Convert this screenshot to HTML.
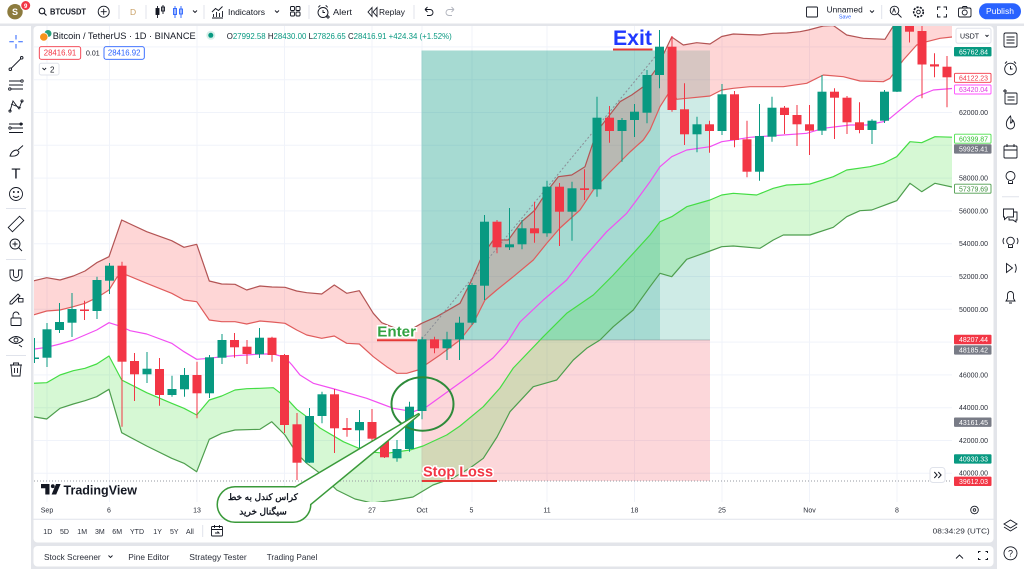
<!DOCTYPE html>
<html><head><meta charset="utf-8"><style>
html,body{margin:0;padding:0;background:#e3e5ea;}
svg{display:block;}
text{font-family:"Liberation Sans",Arial,sans-serif;}
</style></head><body>
<svg width="1024" height="569" viewBox="0 0 1024 569" xmlns="http://www.w3.org/2000/svg">
<defs>
<clipPath id="plot"><rect x="34" y="26" width="918" height="476"/></clipPath>
</defs>
<rect x="0" y="0" width="1024" height="569" fill="#e3e5ea"/>
<!-- panels -->
<rect x="0" y="0" width="1024" height="23.5" fill="#fff"/>
<rect x="0" y="26" width="31" height="543" fill="#fff"/>
<rect x="33.5" y="26" width="960" height="516.5" rx="4" fill="#fff"/>
<rect x="33.5" y="546" width="960" height="20.5" rx="4" fill="#fff"/>
<rect x="997" y="26" width="27" height="543" fill="#fff"/>

<!-- grid -->
<g stroke="#f0f3fa" stroke-width="1">
<path d="M47 26V502M109.5 26V502M197 26V502M284.5 26V502M372 26V502M422 26V502M472 26V502M547 26V502M634.5 26V502M722 26V502M809.5 26V502M897 26V502"/>
<path d="M34 46.9H952M34 79.7H952M34 112.5H952M34 145.3H952M34 178.1H952M34 210.9H952M34 243.7H952M34 276.5H952M34 309.3H952M34 342.1H952M34 374.9H952M34 407.7H952M34 440.5H952M34 473.3H952"/>
</g>
<line x1="33.5" y1="519.3" x2="993.5" y2="519.3" stroke="#e0e3eb"/>

<g clip-path="url(#plot)">
<!-- position tool -->
<rect x="421.5" y="50.5" width="238.5" height="289.5" fill="rgba(8,153,129,0.36)"/>
<rect x="660" y="50.5" width="50" height="289.5" fill="rgba(8,153,129,0.2)"/>
<rect x="421.5" y="340" width="288.5" height="141" fill="rgba(242,54,69,0.2)"/>
<line x1="421.5" y1="340" x2="710" y2="340" stroke="rgba(120,123,134,0.45)"/>
<!-- band fills -->
<polygon fill="rgba(250,70,70,0.22)" points="33,281 46.7,277.7 60,280 73.3,276 85,271 96.7,262.7 109,256.7 121.7,220 146.7,231.7 171.7,240.7 184,247.3 196.7,244.3 209.3,281 221.7,284 235,284.3 246.7,290 260,286 272,287 285,287.3 296.7,291 306.7,292.7 321.7,294 334.3,285 346.7,293.3 359.3,290.7 373.3,313.3 381.7,322.7 395,328 410,330 421.7,323.3 436.7,316.7 460,303.3 471.7,280 481.7,256.7 493.3,240 508.3,240 521.7,221.7 535,210 546.7,191.7 558.3,176.7 571.7,175 585,166.7 596.7,131.7 608.3,116.7 620,101.7 631.7,95 643.3,86.7 656.7,68.3 671.7,37 683.3,45 696.7,42.7 710,44 721.7,36.5 733.3,34 745,34.5 760,35 773.3,33.3 786.7,33 800,31.7 808.3,30 823.3,26 833.3,25.5 846.7,35 863.3,38.3 885,39.3 893.3,26 900,10 955,5 955,36.7 940,38.3 926.7,41.7 916.7,45 903.3,60 890,78.3 883.3,81.7 860,81 843.3,76.7 823.3,75 806.7,83.3 783.3,86.7 750,86.7 733.3,88.3 721.7,90 710,96 686.7,98.3 676.7,99.3 671.7,88.3 660,106.7 650,130 643.3,140 630,152 610,172 593.3,190 580,210 560,228 547,243 533.3,260 513.3,276.7 496.7,290 485,300 473.3,323.3 460,340 440,355 418,370 406.7,373.3 396.7,373.3 386.7,366.7 373.3,356.7 359.3,344 346.7,343.3 334.3,336 321.7,338.3 306.7,335 296.7,330 285,323.3 272,322 260,321 246.7,324 235,321.7 221.7,321.7 209.3,320 196.7,301.7 184,300 171.7,293.3 146.7,283.3 126.7,275 117.3,276.7 109,290 96.7,297.7 85,303.3 73.3,306.7 60,310 46.7,311 33,315"/>
<polygon fill="rgba(70,225,60,0.22)" points="33,383.3 46.7,382.7 60,375 73.3,370.7 85,368.3 96.7,364 109,356 121.7,380 146.7,392.7 171.7,403.3 184,408.3 196.7,415 209.3,400 221.7,396 235,390 246.7,388.7 260,388.3 273.3,387.7 285,396.7 296.7,409.3 306.7,416.7 320,428 343.3,441.7 366.7,451.7 386.7,453.3 410,450 423,446 446.7,435 460,426 483.3,406.7 500,388 513.3,368 543.3,336.7 566.7,313.3 593.3,295 613.3,275 633.3,253.3 650,235 660,221.7 671.7,216.7 686.7,206.7 710,200 721.7,195 733.3,193.3 756.7,195 773.3,188.3 786.7,185 810,184 833.3,176.7 846.7,170 870,166.7 883.3,163.3 896.7,156.7 910,141.7 921.7,142.7 935,136.7 955,137.3 955,187.7 935,183.3 921.7,191.7 910,183.3 896.7,200.7 871.7,210 860,210.7 846.7,216.7 833.3,227.3 810,235 783.3,235 773.3,240 760,248.3 733.3,246 721.7,246.7 710,251 686.7,259.3 671.7,276.7 660,273.3 650,286.7 633.3,310 613.3,326.7 600,340 586.7,348.3 573.3,360 556.7,380 533.3,386.7 510,411.7 497,437 483.3,458.3 470,468 453,478 433,485 413,497 395,500 372,503 355,499 336.7,490 320,473.3 306.7,463.3 296.7,453.3 285,435 271.7,421.7 260,429.3 235,430 221.7,433.3 209.3,439.3 196.7,471.7 184,463.3 171.7,458.3 146.7,446 121.7,432.7 109,389.3 96.7,396.7 85,400.7 73.3,404 60,408.3 46.7,419 33,416.7"/>
<!-- band lines -->
<g fill="none" stroke-width="1.2" stroke-linejoin="round">
<polyline stroke="#b35454" points="33,281 46.7,277.7 60,280 73.3,276 85,271 96.7,262.7 109,256.7 121.7,220 146.7,231.7 171.7,240.7 184,247.3 196.7,244.3 209.3,281 221.7,284 235,284.3 246.7,290 260,286 272,287 285,287.3 296.7,291 306.7,292.7 321.7,294 334.3,285 346.7,293.3 359.3,290.7 373.3,313.3 381.7,322.7 395,328 410,330 421.7,323.3 436.7,316.7 460,303.3 471.7,280 481.7,256.7 493.3,240 508.3,240 521.7,221.7 535,210 546.7,191.7 558.3,176.7 571.7,175 585,166.7 596.7,131.7 608.3,116.7 620,101.7 631.7,95 643.3,86.7 656.7,68.3 671.7,37 683.3,45 696.7,42.7 710,44 721.7,36.5 733.3,34 745,34.5 760,35 773.3,33.3 786.7,33 800,31.7 808.3,30 823.3,26 833.3,25.5 846.7,35 863.3,38.3 885,39.3 893.3,26 900,10 955,5"/>
<polyline stroke="#e05c5c" points="33,315 46.7,311 60,310 73.3,306.7 85,303.3 96.7,297.7 109,290 117.3,276.7 126.7,275 146.7,283.3 171.7,293.3 184,300 196.7,301.7 209.3,320 221.7,321.7 235,321.7 246.7,324 260,321 272,322 285,323.3 296.7,330 306.7,335 321.7,338.3 334.3,336 346.7,343.3 359.3,344 373.3,356.7 386.7,366.7 396.7,373.3 406.7,373.3 418,370 440,355 460,340 473.3,323.3 485,300 496.7,290 513.3,276.7 533.3,260 547,243 560,228 580,210 593.3,190 610,172 630,152 643.3,140 650,130 660,106.7 671.7,88.3 676.7,99.3 686.7,98.3 710,96 721.7,90 733.3,88.3 750,86.7 783.3,86.7 806.7,83.3 823.3,75 843.3,76.7 860,81 883.3,81.7 890,78.3 903.3,60 916.7,45 926.7,41.7 940,38.3 955,36.7"/>
<polyline stroke="#f24ef2" points="33,349.3 46.7,347.3 60,344 73.3,340 85,335 96.7,330 109,322.7 121.7,326.7 130,330.7 146.7,334 171.7,343.3 184,351.7 196.7,359.3 209.3,358.3 221.7,356.7 235,355.7 246.7,355 260,354 273.3,354 285,357.3 292,365 300,375 313.3,383.3 334.3,389 366.7,398.3 393.3,408.3 413.3,411.7 426.7,406.7 450,390 473.3,373.3 493,358 506.7,343 520,322 543.3,300 566.7,280 583.3,258.3 606.7,231.7 626.7,213.3 636.7,200 650,181.7 660,166.7 671.7,156.7 686.7,150 710,146.7 721.7,141.7 733.3,140 750,137.3 783.3,135 806.7,133.3 823.3,128.3 850,125 866.7,125 883.3,121.7 890,118.3 903.3,107.3 916.7,96.7 933.3,90 955,88.3"/>
<polyline stroke="#44dd44" points="33,383.3 46.7,382.7 60,375 73.3,370.7 85,368.3 96.7,364 109,356 121.7,380 146.7,392.7 171.7,403.3 184,408.3 196.7,415 209.3,400 221.7,396 235,390 246.7,388.7 260,388.3 273.3,387.7 285,396.7 296.7,409.3 306.7,416.7 320,428 343.3,441.7 366.7,451.7 386.7,453.3 410,450 423,446 446.7,435 460,426 483.3,406.7 500,388 513.3,368 543.3,336.7 566.7,313.3 593.3,295 613.3,275 633.3,253.3 650,235 660,221.7 671.7,216.7 686.7,206.7 710,200 721.7,195 733.3,193.3 756.7,195 773.3,188.3 786.7,185 810,184 833.3,176.7 846.7,170 870,166.7 883.3,163.3 896.7,156.7 910,141.7 921.7,142.7 935,136.7 955,137.3"/>
<polyline stroke="#4e9e4e" points="33,416.7 46.7,419 60,408.3 73.3,404 85,400.7 96.7,396.7 109,389.3 121.7,432.7 146.7,446 171.7,458.3 184,463.3 196.7,471.7 209.3,439.3 221.7,433.3 235,430 260,429.3 271.7,421.7 285,435 296.7,453.3 306.7,463.3 320,473.3 336.7,490 355,499 372,503 395,500 413,497 433,485 453,478 470,468 483.3,458.3 497,437 510,411.7 533.3,386.7 556.7,380 573.3,360 586.7,348.3 600,340 613.3,326.7 633.3,310 650,286.7 660,273.3 671.7,276.7 686.7,259.3 710,251 721.7,246.7 733.3,246 760,248.3 773.3,240 783.3,235 810,235 833.3,227.3 846.7,216.7 860,210.7 871.7,210 896.7,200.7 910,183.3 921.7,191.7 935,183.3 955,187.7"/>
</g>
<!-- dotted lines -->
<line x1="34" y1="481" x2="952" y2="481" stroke="#9598a1" stroke-width="1" stroke-dasharray="1 2"/>
<line x1="422" y1="339" x2="659" y2="52" stroke="#8a8d96" stroke-width="1" stroke-dasharray="2 2"/>

<!-- green candles -->
<g stroke="#089981" stroke-width="1" fill="none">
<path d="M34.5 338V363M47 323V367M59.5 303V333M72 293V337M97 276.7V319M109.5 263V294M147 352V383M172 375.7V396.7M184.5 368V396.7M209.5 355V398M222 334V364M259.5 328V358M309.5 408V463M322 391.7V423.3M359.5 410V449.3M397 440V461.7M409.5 401.7V451.7M422 336.7V419.3M447 331.7V360M459.5 316.7V360M472 283V325M484.5 215V300M509.5 208V250M522 220V249.3M547 180.7V236.7M572 181.7V240.7M597 96.7V196.7M622 118V161.7M634.5 104V137M647 70V123.3M659.5 30V88.3M697 116.7V152.3M722 84V135M759.5 104V180.7M772 96.7V141.7M822 75V135M872 119.3V144M884.5 90V123M897 20V92"/>
</g>
<g fill="#089981">
<rect x="30" y="357.5" width="9" height="1.5"/><rect x="42.5" y="329.3" width="9" height="28.4"/><rect x="55" y="322" width="9" height="8"/><rect x="67.5" y="309" width="9" height="13.7"/><rect x="92.5" y="280" width="9" height="31"/><rect x="105" y="265.7" width="9" height="15"/><rect x="142.5" y="368.7" width="9" height="5.6"/><rect x="167.5" y="389" width="9" height="6"/><rect x="180" y="375" width="9" height="14.3"/><rect x="205" y="357.3" width="9" height="36"/><rect x="217.5" y="340" width="9" height="17.7"/><rect x="255" y="337.7" width="9" height="16.6"/><rect x="305" y="416" width="9" height="46.7"/><rect x="317.5" y="394.3" width="9" height="21.7"/><rect x="355" y="422" width="9" height="8.3"/><rect x="392.5" y="449" width="9" height="9.3"/><rect x="405" y="406.7" width="9" height="42.3"/><rect x="417.5" y="339.3" width="9" height="71.7"/><rect x="442.5" y="339.3" width="9" height="9"/><rect x="455" y="322.7" width="9" height="16.6"/><rect x="467.5" y="285" width="9" height="37.7"/><rect x="480" y="221.7" width="9" height="64"/><rect x="505" y="244.3" width="9" height="3"/><rect x="517.5" y="228.3" width="9" height="16"/><rect x="542.5" y="186.7" width="9" height="46.6"/><rect x="567.5" y="188.3" width="9" height="23.4"/><rect x="592.5" y="117.7" width="9" height="71.6"/><rect x="617.5" y="120" width="9" height="11"/><rect x="630" y="111.7" width="9" height="8.3"/><rect x="642.5" y="75" width="9" height="37.7"/><rect x="655" y="46.7" width="9" height="28.3"/><rect x="692.5" y="124.3" width="9" height="10"/><rect x="717.5" y="94.3" width="9" height="36.7"/><rect x="755" y="136" width="9" height="35.7"/><rect x="767.5" y="107.7" width="9" height="29"/><rect x="817.5" y="91.7" width="9" height="39"/><rect x="867.5" y="120.7" width="9" height="9.3"/><rect x="880" y="91.7" width="9" height="29"/><rect x="892.5" y="20" width="9" height="71.7"/>
</g>
<!-- red candles -->
<g stroke="#f23645" stroke-width="1" fill="none">
<path d="M84.5 300.7V320M122 261.7V426.7M134.5 353V401M159.5 358V405.7M197 361.7V418.3M234.5 333V357.7M247 340V364M272 336.7V361.7M284.5 354V433M297 413V480M334.5 389V453M347 418V436.7M372 409V452.7M384.5 435V458M434.5 336.7V353.3M497 220V253.3M534.5 201.7V242.7M559.5 183V246M584.5 169.3V200M609.5 106V142.7M672 36V111.7M684.5 83.3V145M709.5 120.7V152.7M734.5 91V147.3M747 120.7V177.3M784.5 106V134M797 105V146M809.5 105V155M834.5 88.3V139M847 96V134M859.5 102.3V133.3M909.5 20V42.5M922 20V98.3M934.5 53.3V77.3M947 56V107.3"/>
</g>
<g fill="#f23645">
<rect x="80" y="309.5" width="9" height="1.5"/><rect x="117.5" y="265.7" width="9" height="96"/><rect x="130" y="361" width="9" height="13.3"/><rect x="155" y="369" width="9" height="26"/><rect x="192.5" y="375" width="9" height="18.3"/><rect x="230" y="340" width="9" height="7.3"/><rect x="242.5" y="346.7" width="9" height="7.3"/><rect x="267.5" y="337.7" width="9" height="17.3"/><rect x="280" y="355" width="9" height="70"/><rect x="292.5" y="424.3" width="9" height="38.4"/><rect x="330" y="394.3" width="9" height="34"/><rect x="342.5" y="428" width="9" height="2"/><rect x="367.5" y="422" width="9" height="16.7"/><rect x="380" y="439.3" width="9" height="18"/><rect x="430" y="339.3" width="9" height="9"/><rect x="492.5" y="221.7" width="9" height="25.6"/><rect x="530" y="228.3" width="9" height="5"/><rect x="555" y="186.7" width="9" height="25"/><rect x="580" y="188.3" width="9" height="1.7"/><rect x="605" y="117.7" width="9" height="13.3"/><rect x="667.5" y="46.7" width="9" height="63.3"/><rect x="680" y="109.3" width="9" height="25"/><rect x="705" y="124.3" width="9" height="6.7"/><rect x="730" y="94.3" width="9" height="45.7"/><rect x="742.5" y="139.3" width="9" height="32.4"/><rect x="780" y="107.7" width="9" height="7.3"/><rect x="792.5" y="115" width="9" height="9.3"/><rect x="805" y="124.3" width="9" height="6.4"/><rect x="830" y="91.7" width="9" height="6"/><rect x="842.5" y="97.7" width="9" height="24.6"/><rect x="855" y="122.3" width="9" height="7.7"/><rect x="905" y="20" width="9" height="11.7"/><rect x="917.5" y="31" width="9" height="33.5"/><rect x="930" y="64.3" width="9" height="2.2"/><rect x="942.5" y="66.7" width="9" height="10.6"/>
</g>

<!-- TradingView logo -->
<path d="M41 484h8.5v10.5h-4.2v-6.3H41z" fill="#131722"/>
<circle cx="52.8" cy="486.2" r="1.9" fill="#131722"/>
<path d="M56 484h4.6l-4.4 10.5h-4.6z" fill="#131722"/>
<text x="63.5" y="494.5" font-size="12.5" font-weight="bold" fill="#131722" textLength="73.5" lengthAdjust="spacingAndGlyphs">TradingView</text>

<!-- >> button -->
<rect x="930" y="467.5" width="15" height="15" rx="3" fill="#fff" stroke="#e0e3eb"/>
<path d="M934.3 472l2.8 3-2.8 3M938.3 472l2.8 3-2.8 3" stroke="#131722" fill="none" stroke-width="1"/>
</g>

<!-- annotations -->
<ellipse cx="422.5" cy="404" rx="31" ry="26.7" fill="none" stroke="#2e8b3a" stroke-width="2"/>
<text x="377.3" y="336.7" font-size="15" font-weight="bold" fill="#32a242" stroke="#fff" stroke-width="3" paint-order="stroke" textLength="38.7" lengthAdjust="spacingAndGlyphs">Enter</text>
<line x1="377" y1="340.3" x2="417" y2="340.3" stroke="#e53935" stroke-width="2"/>
<text x="613" y="45" font-size="21" font-weight="bold" fill="#1f38ff" stroke="#fff" stroke-width="3" paint-order="stroke" textLength="39" lengthAdjust="spacingAndGlyphs">Exit</text>
<line x1="613" y1="49.5" x2="652.5" y2="49.5" stroke="#e53935" stroke-width="2"/>
<text x="423" y="476.7" font-size="14.5" font-weight="bold" fill="#f23645" stroke="#fff" stroke-width="3" paint-order="stroke" textLength="70" lengthAdjust="spacingAndGlyphs">Stop Loss</text>
<line x1="422" y1="481" x2="497" y2="481" stroke="#e53935" stroke-width="2"/>

<!-- speech bubble -->
<g fill="none" stroke="#3a9a3a" stroke-width="3" stroke-linejoin="round">
<rect x="218" y="487.5" width="92" height="34" rx="17"/>
<polygon points="294,488.5 418.5,414.5 309,505"/>
</g>
<g fill="#fff">
<rect x="218" y="487.5" width="92" height="34" rx="17"/>
<polygon points="294,488.5 418.5,414.5 309,505"/>
</g>
<text x="263" y="500" font-family="'DejaVu Sans',sans-serif" font-size="9" font-weight="bold" fill="#131722" text-anchor="middle" direction="rtl">کراس کندل به خط</text>
<text x="263" y="514.5" font-family="'DejaVu Sans',sans-serif" font-size="9" font-weight="bold" fill="#131722" text-anchor="middle" direction="rtl">سیگنال خرید</text>

<!-- price axis -->
<rect x="956" y="28.3" width="35" height="15" rx="2" fill="#fff" stroke="#e0e3eb"/>
<text x="960" y="38.5" font-size="7" fill="#131722">USDT</text>
<path d="M985.5 35l1.5 1.5 1.5-1.5" stroke="#131722" fill="none" stroke-width="0.9"/>
<g font-size="7.2" fill="#2a2e39">
<text x="959" y="115" textLength="29" lengthAdjust="spacingAndGlyphs">62000.00</text>
<text x="959" y="180.6" textLength="29" lengthAdjust="spacingAndGlyphs">58000.00</text>
<text x="959" y="213.4" textLength="29" lengthAdjust="spacingAndGlyphs">56000.00</text>
<text x="959" y="246.2" textLength="29" lengthAdjust="spacingAndGlyphs">54000.00</text>
<text x="959" y="279" textLength="29" lengthAdjust="spacingAndGlyphs">52000.00</text>
<text x="959" y="311.8" textLength="29" lengthAdjust="spacingAndGlyphs">50000.00</text>
<text x="959" y="377.4" textLength="29" lengthAdjust="spacingAndGlyphs">46000.00</text>
<text x="959" y="410.2" textLength="29" lengthAdjust="spacingAndGlyphs">44000.00</text>
<text x="959" y="443" textLength="29" lengthAdjust="spacingAndGlyphs">42000.00</text>
<text x="959" y="475.5" textLength="29" lengthAdjust="spacingAndGlyphs">40000.00</text>
</g>
<g font-size="7.2">
<rect x="954" y="47" width="37.5" height="9.4" rx="1" fill="#089981"/><text x="959" y="54.3" fill="#fff" textLength="29" lengthAdjust="spacingAndGlyphs">65762.84</text>
<rect x="954.5" y="73.3" width="36.5" height="9" rx="1" fill="#fff" stroke="#f23645" stroke-width="0.9"/><text x="959" y="80.4" fill="#f23645" textLength="29" lengthAdjust="spacingAndGlyphs">64122.23</text>
<rect x="954.5" y="85" width="36.5" height="9" rx="1" fill="#fff" stroke="#ff4dff" stroke-width="0.9"/><text x="959" y="92.1" fill="#e03ce0" textLength="29" lengthAdjust="spacingAndGlyphs">63420.04</text>
<rect x="954.5" y="134.2" width="36.5" height="9" rx="1" fill="#fff" stroke="#4ce04c" stroke-width="0.9"/><text x="959" y="141.3" fill="#2fbf2f" textLength="29" lengthAdjust="spacingAndGlyphs">60399.87</text>
<rect x="954" y="144.2" width="37.5" height="9.4" rx="1" fill="#787b86"/><text x="959" y="151.5" fill="#fff" textLength="29" lengthAdjust="spacingAndGlyphs">59925.41</text>
<rect x="954.5" y="184.2" width="36.5" height="9" rx="1" fill="#fff" stroke="#4e9e4e" stroke-width="0.9"/><text x="959" y="191.3" fill="#3f8f3f" textLength="29" lengthAdjust="spacingAndGlyphs">57379.69</text>
<rect x="954" y="334.8" width="37.5" height="9.4" rx="1" fill="#f23645"/><text x="959" y="342.1" fill="#fff" textLength="29" lengthAdjust="spacingAndGlyphs">48207.44</text>
<rect x="954" y="345.2" width="37.5" height="9.4" rx="1" fill="#787b86"/><text x="959" y="352.5" fill="#fff" textLength="29" lengthAdjust="spacingAndGlyphs">48185.42</text>
<rect x="954" y="417.5" width="37.5" height="9.4" rx="1" fill="#787b86"/><text x="959" y="424.8" fill="#fff" textLength="29" lengthAdjust="spacingAndGlyphs">43161.45</text>
<rect x="954" y="454.2" width="37.5" height="9.4" rx="1" fill="#089981"/><text x="959" y="461.5" fill="#fff" textLength="29" lengthAdjust="spacingAndGlyphs">40930.33</text>
<rect x="954" y="476.6" width="37.5" height="9.4" rx="1" fill="#f23645"/><text x="959" y="483.9" fill="#fff" textLength="29" lengthAdjust="spacingAndGlyphs">39612.03</text>
</g>

<!-- time axis -->
<g font-size="7" fill="#2a2e39" text-anchor="middle">
<text x="47" y="512.5">Sep</text><text x="109" y="512.5">6</text><text x="197" y="512.5">13</text>
<text x="372" y="512.5">27</text><text x="422" y="512.5">Oct</text><text x="471.5" y="512.5">5</text>
<text x="547" y="512.5">11</text><text x="634.5" y="512.5">18</text><text x="722" y="512.5">25</text>
<text x="809.5" y="512.5">Nov</text><text x="897" y="512.5">8</text>
</g>
<circle cx="974.5" cy="510" r="3.8" fill="none" stroke="#131722" stroke-width="0.9"/>
<circle cx="974.5" cy="510" r="1.3" fill="none" stroke="#131722" stroke-width="0.8"/>

<!-- redraw bubble over time axis (already on top) -->

<!-- range bar -->
<g font-size="7" fill="#2a2e39">
<text x="43.3" y="534">1D</text><text x="60" y="534">5D</text><text x="77.3" y="534">1M</text><text x="95" y="534">3M</text><text x="112.3" y="534">6M</text><text x="130" y="534">YTD</text><text x="153.3" y="534">1Y</text><text x="170" y="534">5Y</text><text x="186" y="534">All</text>
<text x="932.7" y="533.5" textLength="57" lengthAdjust="spacingAndGlyphs">08:34:29 (UTC)</text>
</g>
<line x1="202.7" y1="525" x2="202.7" y2="537" stroke="#e0e3eb"/>
<g fill="none" stroke="#131722" stroke-width="0.9">
<rect x="211.5" y="526.5" width="11" height="9.5" rx="1"/><path d="M211.5 529.5h11M214.5 525v3M219.5 525v3M215 533h4l-1.5-1.5"/>
</g>

<!-- bottom panel -->
<g font-size="8.3" fill="#2a2e39">
<text x="44" y="560" textLength="56.7" lengthAdjust="spacingAndGlyphs">Stock Screener</text>
<text x="128.3" y="560" textLength="41" lengthAdjust="spacingAndGlyphs">Pine Editor</text>
<text x="189.3" y="560" textLength="57.4" lengthAdjust="spacingAndGlyphs">Strategy Tester</text>
<text x="266.7" y="560" textLength="50.6" lengthAdjust="spacingAndGlyphs">Trading Panel</text>
</g>
<g fill="none" stroke="#131722" stroke-width="0.9">
<path d="M108.5 555.5l2 2 2-2"/>
<path d="M956 558.5l3.5-3.5 3.5 3.5"/>
<path d="M978.5 553v-1.5h2M985.5 551.5h2v1.5M987.5 558v1.5h-2M980.5 559.5h-2v-1.5" stroke-width="1"/>
</g>

<!-- legend -->
<circle cx="48" cy="33.5" r="3.5" fill="#26a17b"/>
<circle cx="43.8" cy="37" r="4.2" fill="#f7931a" stroke="#fff" stroke-width="0.8"/>
<text x="52.7" y="39.2" font-size="9.3" fill="#131722" textLength="143" lengthAdjust="spacingAndGlyphs">Bitcoin / TetherUS · 1D · BINANCE</text>
<circle cx="210.8" cy="35.3" r="4.5" fill="#d6efe9"/>
<circle cx="210.8" cy="35.3" r="2.5" fill="#089981"/>
<text x="226.7" y="38.8" font-size="8" textLength="225" lengthAdjust="spacingAndGlyphs"><tspan fill="#131722">O</tspan><tspan fill="#089981">27992.58 </tspan><tspan fill="#131722">H</tspan><tspan fill="#089981">28430.00 </tspan><tspan fill="#131722">L</tspan><tspan fill="#089981">27826.65 </tspan><tspan fill="#131722">C</tspan><tspan fill="#089981">28416.91 +424.34 (+1.52%)</tspan></text>
<rect x="39.3" y="46.7" width="41.4" height="12.6" rx="2" fill="#fff" stroke="#f23645" stroke-width="0.9"/>
<text x="60" y="55.6" font-size="7.8" fill="#f23645" text-anchor="middle">28416.91</text>
<text x="86" y="55.6" font-size="7" fill="#131722">0.01</text>
<rect x="104" y="46.7" width="40.3" height="12.6" rx="2" fill="#fff" stroke="#2962ff" stroke-width="0.9"/>
<text x="124.2" y="55.6" font-size="7.8" fill="#2962ff" text-anchor="middle">28416.92</text>
<rect x="39.3" y="63.3" width="19.7" height="11.7" rx="2" fill="#fff" stroke="#e0e3eb"/>
<path d="M42.5 68l1.8 1.8 1.8-1.8" stroke="#131722" fill="none" stroke-width="0.9"/>
<text x="50" y="72.5" font-size="8" fill="#131722">2</text>

<!-- top toolbar -->
<circle cx="15" cy="11.7" r="7.7" fill="#8c7b3e"/>
<text x="15" y="15" font-size="9" font-weight="bold" fill="#fff" text-anchor="middle">S</text>
<circle cx="25.7" cy="5.5" r="5" fill="#f23645" stroke="#fff" stroke-width="1"/>
<text x="25.7" y="7.8" font-size="6" font-weight="bold" fill="#fff" text-anchor="middle">9</text>
<g fill="none" stroke="#131722" stroke-width="1.1">
<circle cx="42" cy="11" r="2.8"/><path d="M44 13l2.5 2.5"/>
<circle cx="103.7" cy="11.7" r="5.5" stroke-width="0.9"/><path d="M103.7 8.7v6M100.7 11.7h6" stroke-width="0.9"/>
</g>
<text x="50" y="14.6" font-size="8" font-weight="bold" fill="#131722" textLength="36" lengthAdjust="spacingAndGlyphs">BTCUSDT</text>
<g stroke="#e0e3eb" stroke-width="1">
<path d="M119 5v14M146 5v14M204 5v14M309 5v14M414 5v14M881.7 5v14"/>
</g>
<text x="130" y="14.8" font-size="8.5" fill="#c9a064">D</text>
<g fill="none" stroke="#131722" stroke-width="0.9">
<path d="M157.5 6v12M163 5v9"/><rect x="156" y="8.5" width="3" height="6" fill="#131722"/><rect x="161.5" y="7" width="3" height="4"/>
</g>
<g fill="none" stroke="#2962ff" stroke-width="0.9">
<path d="M175 6v12M181 6v12"/><rect x="173.5" y="8.5" width="3" height="6"/><rect x="179.5" y="9" width="3" height="5"/>
</g>
<g fill="none" stroke="#131722" stroke-width="0.9">
<path d="M193 10.5l2 2 2-2M275 10.5l2 2 2-2"/>
<path d="M212 18h11M213.5 17v-3M216.5 17v-5M219.5 17v-4M222.5 17v-6M212 12l3.5-3.5 3 2 4-4"/>
<rect x="290.5" y="6.5" width="4" height="4" rx="1"/><rect x="296" y="6.5" width="4" height="4" rx="1"/><rect x="290.5" y="12" width="4" height="4" rx="1"/><rect x="296" y="12" width="4" height="4" rx="1"/>
<circle cx="323" cy="12.5" r="5"/><path d="M323 10v2.5h2M318.3 7.3l2-2M327.7 7.3l-2-2M326 17h4M328 15v4"/>
<path d="M372 7.5l-4 4.5 4 4.5zM377 7.5l-4 4.5 4 4.5z"/>
<path d="M425 9.5h5a3 3 0 0 1 0 6h-3M425 9.5l2.5-2.5M425 9.5l2.5 2.5"/>
<path d="M454 9.5h-5a3 3 0 0 0 0 6h3M454 9.5l-2.5-2.5M454 9.5l-2.5 2.5" stroke="#b2b5be"/>
</g>
<g font-size="8.6" fill="#131722">
<text x="228" y="15" textLength="37" lengthAdjust="spacingAndGlyphs">Indicators</text>
<text x="333" y="15" textLength="19" lengthAdjust="spacingAndGlyphs">Alert</text>
<text x="379" y="15" textLength="26" lengthAdjust="spacingAndGlyphs">Replay</text>
</g>
<g fill="none" stroke="#131722" stroke-width="0.9">
<rect x="806.5" y="7" width="11" height="10" rx="1"/>
<path d="M870 10.5l2 2 2-2"/>
<circle cx="894.5" cy="10.5" r="4.3"/><path d="M897.5 13.5l4 4M892.5 12.5l1.5-4 1.5 4"/>
<circle cx="918.5" cy="12" r="4.8" stroke-dasharray="2.2 1.2" stroke-width="1.6"/><circle cx="918.5" cy="12" r="1.8"/>
<path d="M937.5 10v-3h3M943.5 7h3v3M946.5 14v3h-3M940.5 17h-3v-3"/>
<rect x="958.5" y="8" width="12.5" height="9" rx="1.5"/><circle cx="964.7" cy="12.5" r="2.5"/><path d="M962 8l1-1.5h3.5l1 1.5"/>
</g>
<text x="826.7" y="12.3" font-size="8" fill="#131722" textLength="36" lengthAdjust="spacingAndGlyphs">Unnamed</text>
<text x="839" y="18.4" font-size="5" fill="#2962ff" textLength="12" lengthAdjust="spacingAndGlyphs">Save</text>
<rect x="979" y="3.3" width="42" height="16" rx="8" fill="#2962ff"/>
<text x="1000" y="14.2" font-size="8.5" fill="#fff" text-anchor="middle">Publish</text>

<!-- left toolbar -->
<g fill="none" stroke="#2962ff" stroke-width="1">
<path d="M16 35v4.5M16 44v4.5M9.3 41.7h4.5M18.3 41.7h4.5"/>
</g>
<g fill="none" stroke="#131722" stroke-width="0.9">
<path d="M11 68.5L21 58.5"/><circle cx="10.3" cy="69.2" r="1.3"/><circle cx="21.7" cy="57.8" r="1.3"/>
<path d="M9 81h12M9 85h14M11 89h12"/><circle cx="22" cy="81" r="1.2"/><circle cx="9.8" cy="89" r="1.2"/>
<path d="M10 111l3-10 6 8 3-8M11 104l10 4"/><circle cx="10" cy="111" r="1.1"/><circle cx="22" cy="101" r="1.1"/>
<path d="M9 124h14M11 128h12M9 132.5h14"/><circle cx="10" cy="128" r="1.2"/><circle cx="21" cy="124" r="1.1"/>
<path d="M10 156q2-6 7-6l2 2q-1 5-9 4zM18 150l5-4.5"/>
<circle cx="16" cy="194" r="6.5"/><path d="M13 196q3 3 6 0"/><circle cx="13.8" cy="192" r="0.5"/><circle cx="18.2" cy="192" r="0.5"/>
<rect x="8" y="221" width="16" height="6" transform="rotate(-45 16 224)"/>
<circle cx="15" cy="244" r="5"/><path d="M18.6 247.6l3.4 3.4M15 241.5v5M12.5 244h5"/>
<path d="M10 270v5a6 6 0 0 0 12 0v-5h-3.5v5a2.5 2.5 0 0 1-5 0v-5z"/>
<path d="M10 302l8-8 2 2-8 8h-2z"/><rect x="18.5" y="298.5" width="4.5" height="3.5"/>
<rect x="11" y="318" width="10" height="7.5" rx="1"/><path d="M13 318v-3a3 3 0 0 1 6 0"/>
<path d="M9 340q7-7 14 0q-7 7-14 0z"/><circle cx="16" cy="340" r="2"/><path d="M19 345l3 2"/>
<path d="M10 365h12M13.5 365v-2h5v2M11 365l1 11h8l1-11M14.5 368v5M17.5 368v5"/>
</g>
<text x="16" y="178.5" font-family="'Liberation Serif',serif" font-size="15" fill="#131722" text-anchor="middle">T</text>
<g stroke="#e0e3eb" stroke-width="1"><path d="M6 208.5h20M6 259.5h20M6 355.5h20"/></g>

<!-- right toolbar -->
<g fill="none" stroke="#131722" stroke-width="0.9">
<rect x="1004" y="33" width="13" height="14" rx="1.5"/><path d="M1006.5 37h8M1006.5 40h8M1006.5 43h8"/>
<circle cx="1010.5" cy="69" r="5.8"/><path d="M1010.5 66v3h2M1005 63.5l2-2M1016 63.5l-2-2"/>
<rect x="1005" y="93" width="12" height="11" rx="1"/><path d="M1007.5 97h7M1007.5 100h7M1003 91h4M1005 89v4"/>
<path d="M1010.5 116q-5 5-4 9a4 4 0 0 0 8 0q0-3-2-5q0 3-2 3q1-4 0-7z"/>
<rect x="1004" y="146" width="13" height="12" rx="1"/><path d="M1004 150h13M1007 144v3M1014 144v3"/>
<circle cx="1010.5" cy="176" r="4.5"/><path d="M1008.5 181v2.5h4V181"/>
<path d="M1003.5 209h10v8h-6l-3 2.5v-2.5h-1zM1014 212h3v8h-1v2l-3-2h-4v-2"/>
<circle cx="1010.5" cy="241" r="3.8"/><path d="M1008.5 245v2.5h4V245M1004 238q-2 3 0 6M1017 238q2 3 0 6"/>
<path d="M1006.5 263.5v9l6-4.5zM1015 264q2.5 4.3 0 8.6"/>
<path d="M1006 301h9l-1.5-2.5v-4a3 3 0 0 0-6 0v4zM1009 303h3"/>
<path d="M1010.5 520l6.5 4-6.5 4-6.5-4zM1004 527l6.5 4 6.5-4"/>
<circle cx="1010.5" cy="553.3" r="6.5"/>
</g>
<text x="1010.5" y="556.6" font-size="9" fill="#131722" text-anchor="middle">?</text>
<path d="M1002 196.7h17" stroke="#e0e3eb"/>
</svg>
</body></html>
